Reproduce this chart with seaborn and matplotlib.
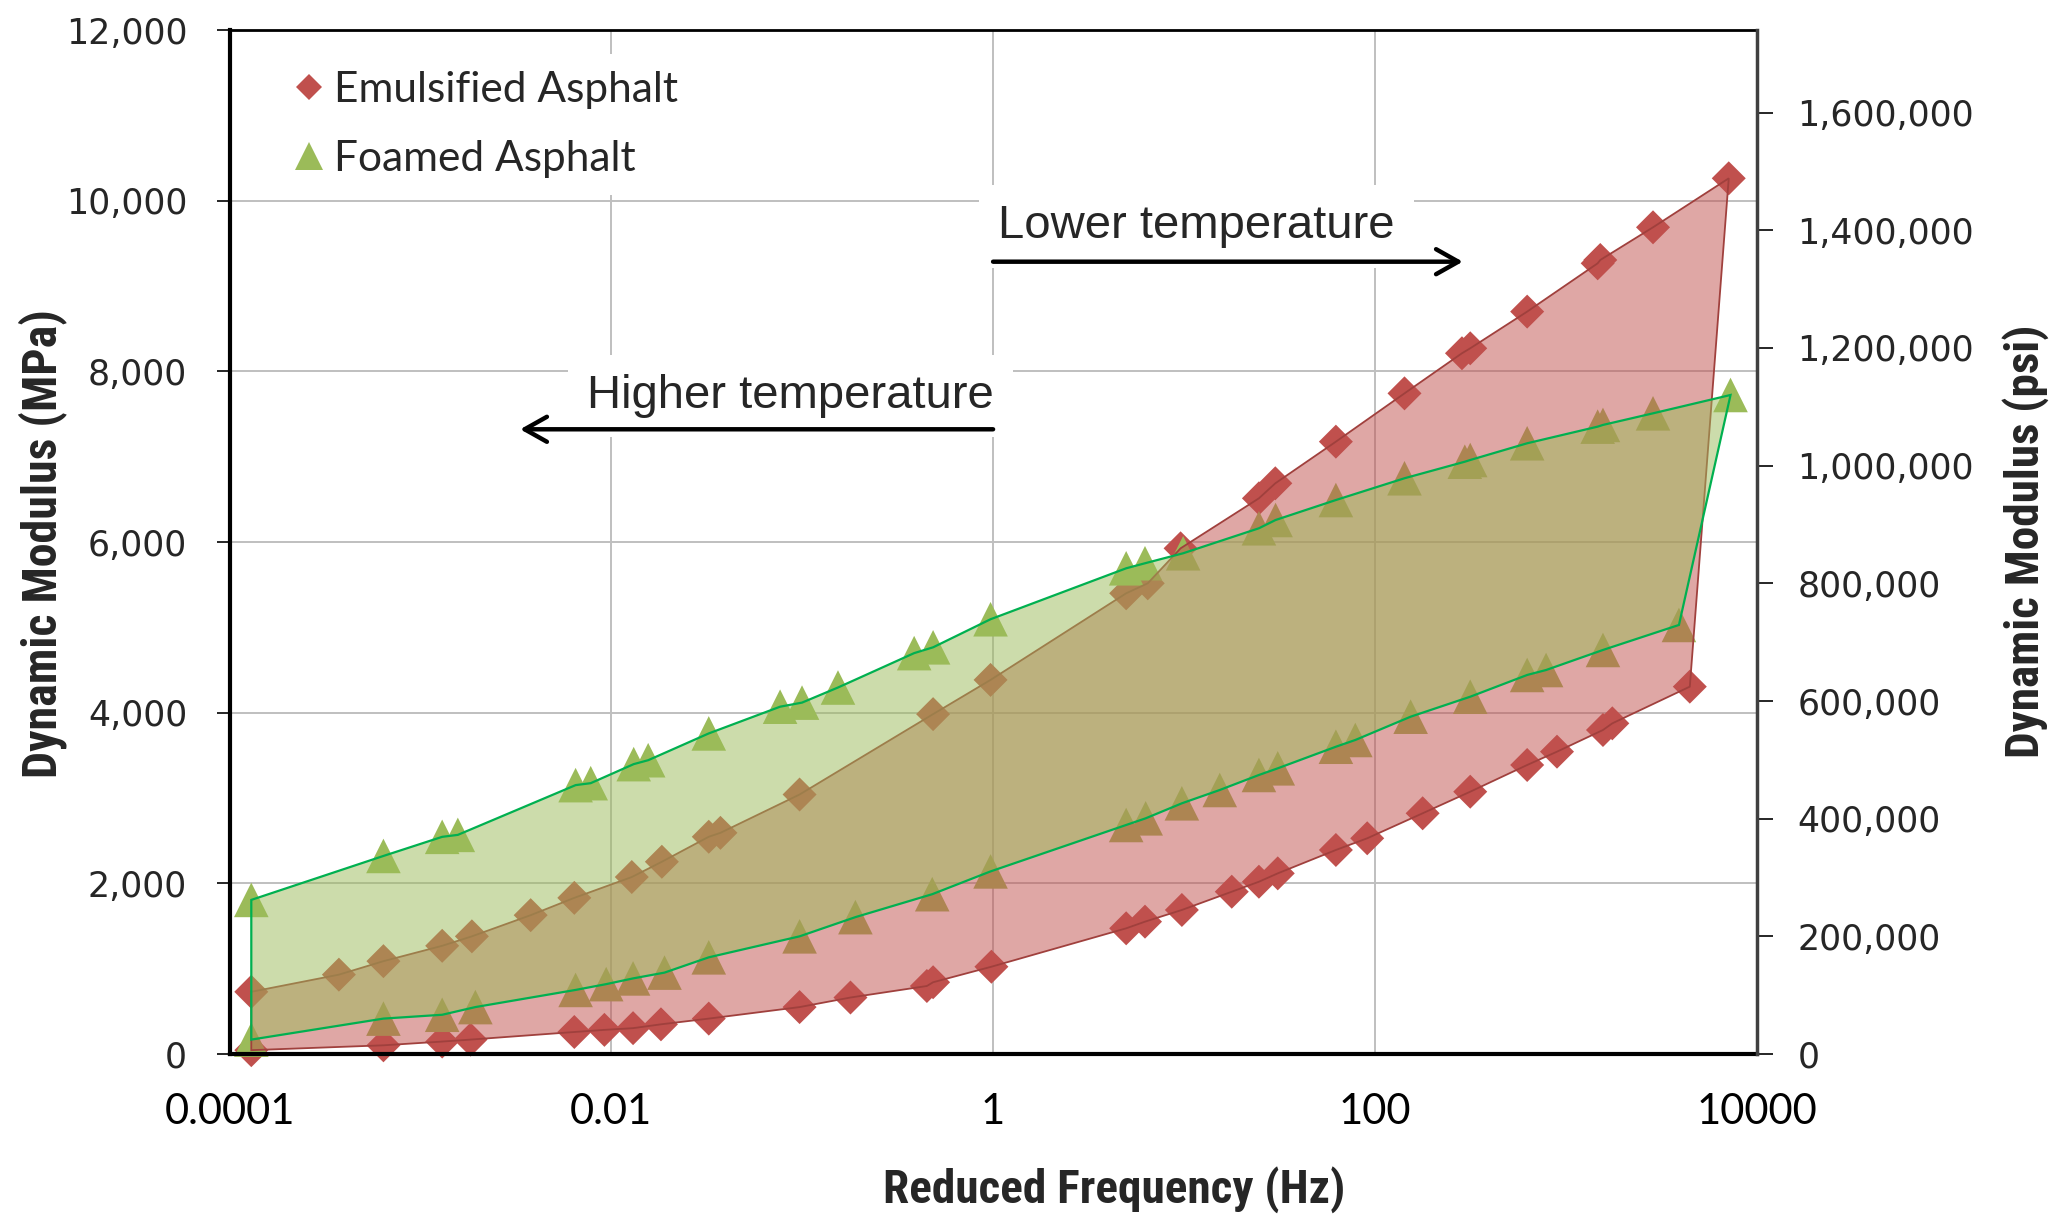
import numpy as np
import pandas as pd
import matplotlib
matplotlib.use("Agg")
import matplotlib.pyplot as plt
import seaborn as sns
from matplotlib.lines import Line2D
from matplotlib.ticker import FixedLocator, FuncFormatter

# --- data (reduced frequency in Hz, modulus in MPa) ---
emul_upper_x = [1.3e-4, 3.74e-4, 6.4e-4, 1.30e-3, 1.86e-3, 3.78e-3, 6.4e-3, 0.0128, 0.0184, 0.0324,
                0.0373, 0.0969, 0.485, 0.97, 4.98, 6.46, 9.6, 24.7, 30.1, 62.5, 143, 286, 316, 628,
                1470, 1517, 2866, 7145]
emul_upper_y = [729, 930, 1088, 1268, 1379, 1627, 1830, 2074, 2253, 2546,
                2592, 3041, 3983, 4384, 5399, 5516, 5926, 6512, 6688, 7176, 7742, 8212, 8270, 8700,
                9266, 9305, 9688, 10262]

emul_lower_x = [1.3e-4, 6.4e-4, 1.30e-3, 1.83e-3, 6.4e-3, 9.2e-3, 0.0130, 0.0182, 0.0324, 0.0969,
                0.179, 0.45, 0.485, 0.98, 4.98, 6.25, 9.75, 17.8, 24.7, 31.0, 62.5, 91.2, 178, 316,
                628, 900, 1567, 1754, 4467]
emul_lower_y = [45, 102, 146, 169, 258, 283, 303, 348, 415, 550,
                662, 797, 841, 1023, 1473, 1551, 1688, 1902, 2019, 2117, 2391, 2528, 2821, 3074,
                3387, 3543, 3797, 3875, 4305]

foam_upper_x = [1.3e-4, 6.4e-4, 1.30e-3, 1.57e-3, 6.5e-3, 7.8e-3, 0.0131, 0.0156, 0.0324, 0.0766,
                0.0998, 0.154, 0.386, 0.485, 0.97, 4.98, 6.25, 9.9, 24.7, 30.2, 62.5, 143, 296, 316,
                628, 1470, 1567, 2866, 7300]
foam_upper_y = [1806, 2321, 2545, 2568, 3151, 3174, 3397, 3443, 3757, 4070,
                4118, 4295, 4698, 4766, 5095, 5692, 5751, 5868, 6161, 6258, 6492, 6747, 6941, 6961,
                7157, 7352, 7372, 7508, 7723]

foam_lower_x = [1.3e-4, 6.4e-4, 1.30e-3, 1.94e-3, 6.5e-3, 9.4e-3, 0.013, 0.019, 0.0324, 0.0969,
                0.19, 0.48, 0.97, 4.98, 6.3, 9.75, 15.4, 24.7, 31.0, 62.5, 79, 154, 316, 628, 789,
                1567, 3918]
foam_lower_y = [169, 415, 460, 550, 751, 819, 886, 954, 1133, 1379,
                1604, 1873, 2140, 2684, 2762, 2938, 3094, 3270, 3348, 3601, 3680, 3953, 4187, 4442, 4500,
                4735, 5028]

x_major = [1e-4, 1e-2, 1, 1e2, 1e4]
x_labels = ["0.0001", "0.01", "1", "100", "10000"]
y_ticks = [0, 2000, 4000, 6000, 8000, 10000, 12000]
psi_ticks = [0, 200000, 400000, 600000, 800000, 1000000, 1200000, 1400000, 1600000]
MPA_TO_PSI = 145.038

RED = "#C0504D"
GREEN = "#9BBB59"

sns.set_style("white")
plt.rcParams["font.family"] = ["DejaVu Sans"]
LABEL_FONT = ["Roboto Condensed", "Roboto", "DejaVu Sans"]

fig = plt.figure(figsize=(20.55, 12.15), dpi=100)
ax = fig.add_axes([0.1117, 0.1325, 0.7431, 0.8428])

# markers (drawn under the shaded envelopes, like the original)
sns.scatterplot(x=emul_upper_x + emul_lower_x, y=emul_upper_y + emul_lower_y, marker="D", s=300,
                color=RED, edgecolor="none", linewidth=0, zorder=2, clip_on=False, ax=ax)
sns.scatterplot(x=foam_upper_x + foam_lower_x, y=foam_upper_y + foam_lower_y, marker="^", s=620,
                color=GREEN, edgecolor="none", linewidth=0, zorder=2, clip_on=False, ax=ax)

# envelopes: upper curve left->right, lower curve right->left
ex = emul_upper_x + emul_lower_x[::-1]
ey = emul_upper_y + emul_lower_y[::-1]
ax.fill(ex, ey, facecolor=(0.753, 0.314, 0.302, 0.5), edgecolor="#A0403D", lw=1.3, zorder=3)
fx = foam_upper_x + foam_lower_x[::-1]
fy = foam_upper_y + foam_lower_y[::-1]
ax.fill(fx, fy, facecolor=(0.608, 0.733, 0.349, 0.5), edgecolor="#00B050", lw=1.6, zorder=4)

ax.set_xscale("log")
ax.set_xlim(1e-4, 1e4)
ax.set_ylim(0, 12000)
ax.xaxis.set_major_locator(FixedLocator(x_major))
ax.set_xticklabels(x_labels)
minor = [m * 10.0 ** e for e in (-3, -1, 1, 3) for m in range(1, 10)]
ax.xaxis.set_minor_locator(FixedLocator(minor))
ax.xaxis.set_minor_formatter(FuncFormatter(lambda v, p: ""))
ax.set_yticks(y_ticks)
ax.yaxis.set_major_formatter(FuncFormatter(lambda v, p: f"{v:,.0f}"))

ax.set_axisbelow(True)
ax.grid(True, which="major", color="#BFBFBF", lw=1.4)

ax.tick_params(axis="x", which="major", direction="inout", length=16, width=1.6, pad=20,
               labelsize=30, colors="black")
ax.tick_params(axis="x", which="minor", direction="inout", length=14, width=1.6)
ax.tick_params(axis="y", which="major", direction="out", length=9.5, width=1.4, pad=21,
               labelsize=25, left=True)
for lab in ax.get_xticklabels():
    lab.set_family(["Lato", "DejaVu Sans"])

for s in ["left", "bottom"]:
    ax.spines[s].set_color("black")
    ax.spines[s].set_linewidth(3)
ax.spines["top"].set_color("black")
ax.spines["top"].set_linewidth(2)
ax.spines["right"].set_visible(False)

ax.set_xlabel("Reduced Frequency (Hz)", fontsize=34, fontweight="bold", family=LABEL_FONT, va="center")
ax.xaxis.set_label_coords(0.5792, -0.1328)
ax.set_ylabel("Dynamic Modulus (MPa)", fontsize=34.5, fontweight="bold", family=LABEL_FONT, va="center")
ax.yaxis.set_label_coords(-0.1225, 0.4988)

# secondary psi axis
ax2 = ax.twinx()
ax2.set_ylim(0, 12000 * MPA_TO_PSI)
ax2.set_yticks(psi_ticks)
ax2.yaxis.set_major_formatter(FuncFormatter(lambda v, p: f"{v:,.0f}"))
ax2.tick_params(axis="y", direction="out", length=11.5, width=1.4, pad=18, labelsize=25, right=True)
for s in ["left", "bottom", "top"]:
    ax2.spines[s].set_visible(False)
ax2.spines["right"].set_color("#404040")
ax2.spines["right"].set_linewidth(2.5)
ax2.set_ylabel("Dynamic Modulus (psi)", fontsize=34, fontweight="bold", family=LABEL_FONT,
               rotation=90, va="center")
ax2.yaxis.set_label_coords(1.1758, 0.5007)

# temperature annotations
box = dict(facecolor="white", edgecolor="none", pad=14)
arrow = dict(arrowstyle="->,head_length=0.8,head_width=0.45", lw=3.2, color="black",
             shrinkA=0, shrinkB=0, mutation_scale=20)
ax.text(1.061, 9559, "Lower temperature", fontsize=34, family=["Liberation Sans", "DejaVu Sans"],
        va="baseline", ha="left", bbox=box, zorder=6)
ax.annotate("", xy=(289, 9285), xytext=(1, 9285), arrowprops=arrow, zorder=7)
ax.text(7.46e-3, 7570, "Higher temperature", fontsize=34, family=["Liberation Sans", "DejaVu Sans"],
        va="baseline", ha="left", bbox=box, zorder=6)
ax.annotate("", xy=(3.33e-3, 7321), xytext=(1, 7321), arrowprops=arrow, zorder=7)

handles = [Line2D([], [], marker="D", color=RED, ls="none", markersize=13.7, markeredgewidth=0),
           Line2D([], [], marker="^", color=GREEN, ls="none", markersize=20, markeredgewidth=0)]
leg = ax.legend(handles, ["Emulsified Asphalt", "Foamed Asphalt"], loc="upper left",
                bbox_to_anchor=(0.031, 0.977), borderaxespad=0, frameon=True, framealpha=1,
                edgecolor="none", facecolor="white", handlelength=0.7, handletextpad=0.25,
                labelspacing=0.74, prop={"family": ["Lato", "DejaVu Sans"], "size": 30.5})
leg.set_zorder(8)

fig.savefig("out.png", dpi=100)
